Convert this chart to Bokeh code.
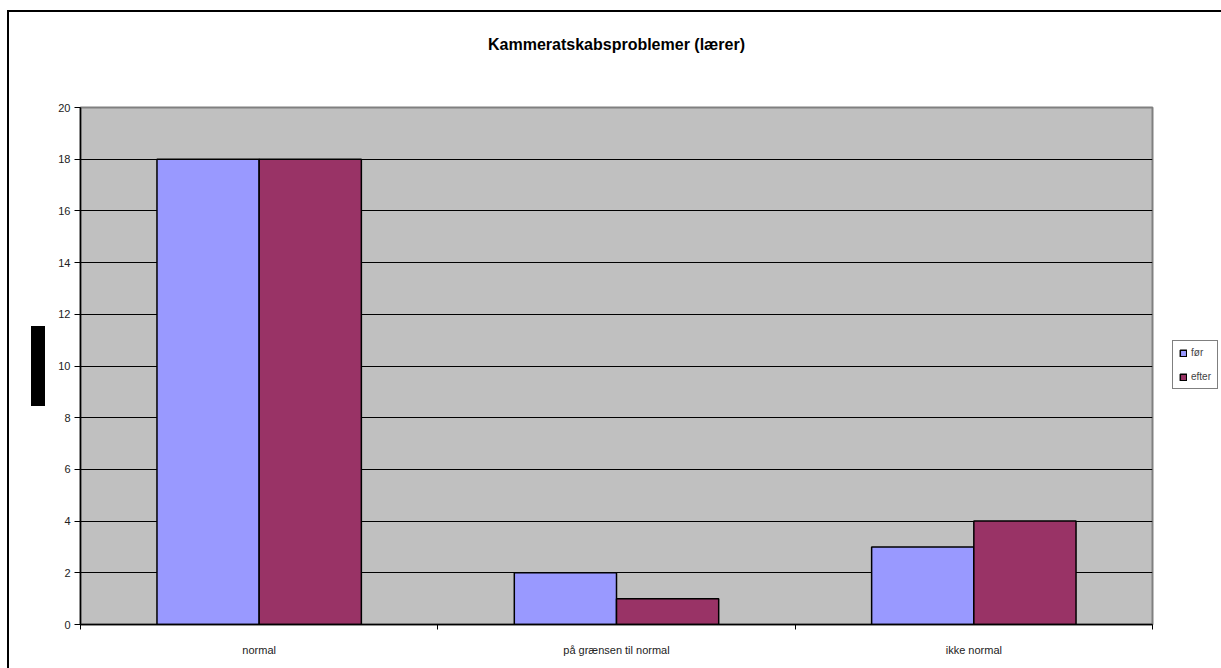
from bokeh.plotting import figure
from bokeh.models import FixedTicker, Legend, LegendItem, ColumnDataSource, Title
from bokeh.embed import file_html
from bokeh.resources import INLINE

categories = ["normal", "på grænsen til normal", "ikke normal"]
for_values = [18, 2, 3]
efter_values = [18, 1, 4]
series_names = ["før", "efter"]
y_ticks = [0, 2, 4, 6, 8, 10, 12, 14, 16, 18, 20]
chart_title = "Kammeratskabsproblemer (lærer)"

FONT = "Liberation Sans"
bar_w = 0.286

idx = list(range(len(categories)))
centers = [i + 0.5 for i in idx]
src = ColumnDataSource(dict(
    x1=[c - bar_w / 2 for c in centers],
    x2=[c + bar_w / 2 for c in centers],
    v1=for_values,
    v2=efter_values,
))

p = figure(frame_width=1072, frame_height=517, output_backend="svg", toolbar_location=None,
           x_range=(0, len(categories)), y_range=(0, 20),
           min_border_left=71, min_border_right=64, min_border_top=95, min_border_bottom=44)
p.styles = {"border-left": "2px solid black", "border-top": "2px solid black",
            "border-right": "0px none white", "border-bottom": "0px none white",
            "margin-left": "7px", "margin-top": "10px"}

p.title.text = ""
spacer = Title(text="\u00a0", text_font=FONT, text_font_size="15px", standoff=30)
main_title = Title(text=chart_title, align="center", vertical_align="middle",
                   text_font=FONT, text_font_size="16px", text_font_style="bold",
                   text_color="black", standoff=10)
p.add_layout(spacer, "above")
p.add_layout(main_title, "above")

p.border_fill_color = "white"
p.background_fill_color = "#C0C0C0"
p.outline_line_color = "#808080"
p.outline_line_width = 2

r1 = p.vbar(x="x1", top="v1", width=bar_w, bottom=0, source=src,
            fill_color="#9999FF", line_color="black", line_width=1.5)
r2 = p.vbar(x="x2", top="v2", width=bar_w, bottom=0, source=src,
            fill_color="#993366", line_color="black", line_width=1.5)

# axes
p.xaxis.ticker = FixedTicker(ticks=centers, minor_ticks=[float(i) for i in range(len(categories) + 1)])
p.xaxis.major_label_overrides = {c: lab for c, lab in zip(centers, categories)}
p.xaxis.major_tick_line_color = None
p.xaxis.minor_tick_out = 5
p.xaxis.minor_tick_in = 0
p.xaxis.minor_tick_line_color = "black"
p.xaxis.axis_line_color = "black"
p.xaxis.axis_line_width = 1.5
p.xaxis.major_label_text_font = FONT
p.xaxis.major_label_text_font_size = "11px"
p.xaxis.major_label_text_color = "#222222"
p.xaxis.major_label_standoff = 13

p.yaxis.ticker = FixedTicker(ticks=y_ticks)
p.yaxis.major_tick_out = 6
p.yaxis.major_tick_in = 0
p.yaxis.minor_tick_line_color = None
p.yaxis.axis_line_color = "black"
p.yaxis.axis_line_width = 1.5
p.yaxis.major_label_text_font = FONT
p.yaxis.major_label_text_font_size = "11px"
p.yaxis.major_label_text_color = "#222222"
p.yaxis.major_label_standoff = 4

p.xgrid.grid_line_color = None
p.ygrid.grid_line_color = "black"
p.ygrid.grid_line_width = 1

# obscured (blacked-out) axis title block
block = Title(text="\u00a0" * 24, align="center", text_font=FONT, text_font_size="12px",
              text_color="black", background_fill_color="black", background_fill_alpha=1.0,
              standoff=21)
p.add_layout(block, "left")

legend = Legend(items=[LegendItem(label=series_names[0], renderers=[r1]),
                       LegendItem(label=series_names[1], renderers=[r2])],
                location=(20, 235))
legend.label_text_font = FONT
legend.label_text_font_size = "10px"
legend.glyph_width = 8
legend.glyph_height = 8
legend.spacing = 13
legend.padding = 6
legend.margin = 0
legend.label_standoff = 4
legend.border_line_color = "black"
legend.border_line_width = 1
legend.background_fill_color = "white"
legend.background_fill_alpha = 1
p.add_layout(legend, "right")

open("out.html", "w").write(file_html(p, INLINE))
